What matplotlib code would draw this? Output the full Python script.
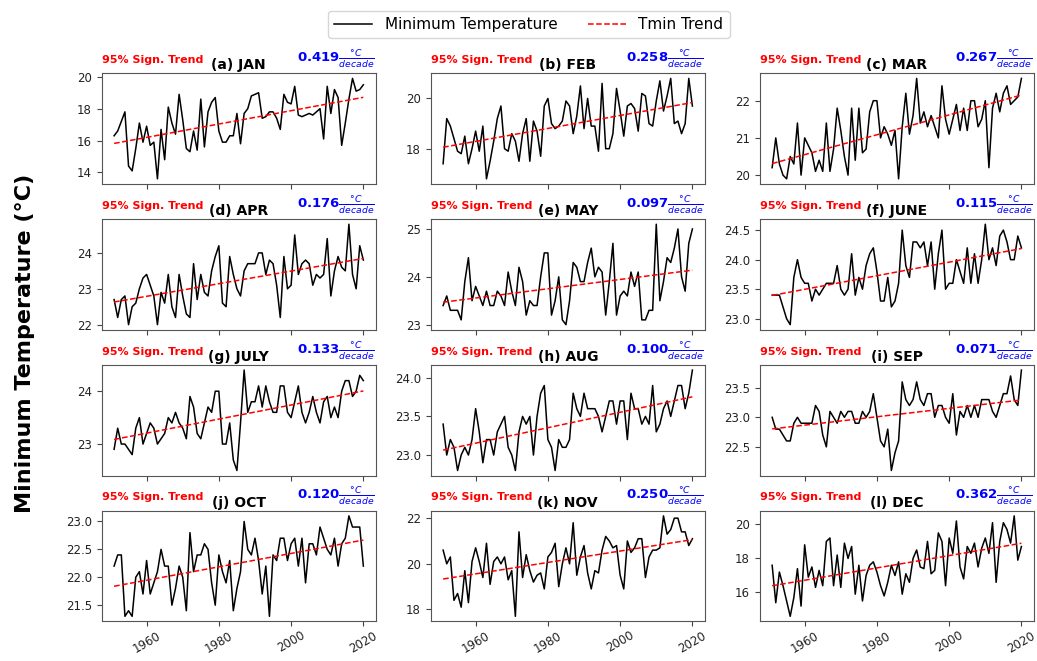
import numpy as np
import matplotlib.pyplot as plt
from matplotlib.ticker import MaxNLocator

years = np.arange(1951, 2021)

months = ['(a) JAN', '(b) FEB', '(c) MAR', '(d) APR', '(e) MAY', '(f) JUNE',
          '(g) JULY', '(h) AUG', '(i) SEP', '(j) OCT', '(k) NOV', '(l) DEC']

# pendiente de la tendencia (degC por decada)
trend_dec = [0.419, 0.258, 0.267, 0.176, 0.097, 0.115,
             0.133, 0.100, 0.071, 0.120, 0.250, 0.362]

tmin_jan = [16.3, 16.6, 17.2, 17.8, 14.4, 14.1, 15.5, 17.1, 15.9, 16.9,
            15.7, 15.9, 13.6, 16.7, 14.8, 18.1, 17.1, 16.4, 18.9, 17.3,
            15.5, 15.3, 16.6, 15.4, 18.6, 15.6, 17.8, 18.4, 18.7, 16.6,
            15.9, 15.9, 16.3, 16.3, 17.7, 15.8, 17.7, 18.0, 18.8, 18.9,
            19.0, 17.4, 17.5, 17.8, 17.8, 17.4, 16.7, 18.9, 18.4, 18.3,
            19.4, 17.6, 17.5, 17.6, 17.7, 17.6, 17.8, 18.0, 16.1, 19.4,
            17.7, 19.2, 18.7, 15.7, 17.1, 18.6, 19.9, 19.1, 19.2, 19.5]

tmin_feb = [17.4, 19.2, 18.9, 18.4, 17.9, 17.8, 18.5, 17.4, 18.0, 18.7,
            17.9, 18.9, 16.8, 17.5, 18.3, 19.2, 19.7, 18.0, 17.9, 18.6,
            18.3, 17.5, 18.6, 19.2, 17.5, 19.1, 18.7, 17.7, 19.7, 20.0,
            19.0, 18.8, 18.9, 19.1, 19.9, 19.7, 18.6, 19.3, 20.5, 18.8,
            20.0, 18.9, 18.9, 17.9, 20.6, 18.0, 18.0, 18.6, 20.4, 19.5,
            18.5, 19.7, 19.8, 19.6, 18.7, 20.2, 20.1, 19.0, 18.9, 19.9,
            20.7, 19.5, 20.1, 20.8, 19.0, 19.1, 18.6, 19.0, 20.8, 19.7]

tmin_mar = [20.2, 21.0, 20.3, 20.0, 19.9, 20.5, 20.3, 21.4, 20.0, 21.0,
            20.8, 20.6, 20.1, 20.4, 20.1, 21.4, 20.1, 20.7, 21.8, 21.2,
            20.5, 20.0, 21.8, 20.4, 21.8, 20.6, 20.7, 21.7, 22.0, 22.0,
            21.0, 21.3, 21.1, 20.8, 21.2, 19.9, 21.3, 22.2, 21.1, 21.6,
            22.6, 21.4, 21.7, 21.3, 21.6, 21.3, 21.0, 22.4, 21.5, 21.1,
            21.5, 21.9, 21.2, 21.8, 21.2, 22.0, 22.0, 21.3, 21.5, 22.0,
            20.2, 21.8, 22.2, 21.7, 22.2, 22.4, 21.9, 22.0, 22.1, 22.6]

tmin_apr = [22.7, 22.2, 22.7, 22.8, 22.0, 22.5, 22.6, 23.0, 23.3, 23.4,
            23.1, 22.8, 22.0, 22.9, 22.6, 23.4, 22.5, 22.2, 23.4, 22.8,
            22.3, 22.2, 23.7, 22.7, 23.4, 22.9, 22.8, 23.5, 23.9, 24.2,
            22.6, 22.5, 23.9, 23.4, 23.0, 22.8, 23.5, 23.7, 23.7, 23.7,
            24.0, 24.0, 23.4, 23.8, 23.7, 23.1, 22.2, 23.9, 23.0, 23.1,
            24.5, 23.4, 23.7, 23.8, 23.7, 23.1, 23.4, 23.3, 23.4, 24.4,
            22.8, 23.5, 23.9, 23.6, 23.5, 24.8, 23.4, 23.0, 24.2, 23.8]

tmin_may = [23.4, 23.6, 23.3, 23.3, 23.3, 23.1, 23.9, 24.4, 23.5, 23.8,
            23.6, 23.4, 23.7, 23.4, 23.4, 23.7, 23.6, 23.4, 24.1, 23.7,
            23.4, 24.2, 23.9, 23.2, 23.5, 23.4, 23.4, 24.0, 24.5, 24.5,
            23.2, 23.5, 24.0, 23.1, 23.0, 23.5, 24.3, 24.2, 23.9, 23.9,
            24.3, 24.6, 24.0, 24.2, 24.1, 23.2, 23.9, 24.7, 23.2, 23.6,
            23.7, 23.6, 24.1, 23.8, 24.1, 23.1, 23.1, 23.3, 23.3, 25.1,
            23.5, 23.9, 24.4, 24.3, 24.6, 25.0, 24.0, 23.7, 24.7, 25.0]

tmin_jun = [23.4, 23.4, 23.4, 23.2, 23.0, 22.9, 23.7, 24.0, 23.7, 23.6,
            23.6, 23.3, 23.5, 23.4, 23.5, 23.6, 23.6, 23.6, 23.9, 23.5,
            23.4, 23.5, 24.1, 23.4, 23.7, 23.5, 23.9, 24.1, 24.2, 23.8,
            23.3, 23.3, 23.7, 23.2, 23.3, 23.6, 24.5, 23.9, 23.7, 24.3,
            24.3, 24.2, 24.3, 23.9, 24.3, 23.5, 24.1, 24.5, 23.5, 23.6,
            23.6, 24.0, 23.8, 23.6, 24.2, 23.6, 24.1, 23.6, 24.0, 24.6,
            24.0, 24.2, 23.9, 24.4, 24.5, 24.3, 24.0, 24.0, 24.4, 24.2]

tmin_jul = [22.9, 23.3, 23.0, 23.0, 22.9, 22.8, 23.3, 23.5, 23.0, 23.2,
            23.4, 23.3, 23.0, 23.1, 23.2, 23.5, 23.4, 23.6, 23.4, 23.3,
            23.1, 23.9, 23.7, 23.2, 23.1, 23.4, 23.7, 23.6, 24.0, 24.0,
            23.0, 23.0, 23.4, 22.7, 22.5, 23.4, 24.4, 23.6, 23.8, 23.8,
            24.1, 23.7, 24.1, 23.8, 23.6, 23.6, 24.1, 24.1, 23.6, 23.5,
            23.8, 24.1, 23.6, 23.4, 23.6, 23.9, 23.6, 23.4, 23.8, 23.9,
            23.5, 23.7, 23.5, 24.0, 24.2, 24.2, 23.9, 24.0, 24.3, 24.2]

tmin_aug = [23.4, 23.0, 23.2, 23.1, 22.8, 23.0, 23.1, 23.0, 23.2, 23.6,
            23.3, 22.9, 23.2, 23.2, 23.0, 23.3, 23.4, 23.5, 23.1, 23.0,
            22.8, 23.3, 23.5, 23.4, 23.5, 23.0, 23.5, 23.8, 23.9, 23.2,
            23.1, 22.8, 23.2, 23.1, 23.1, 23.2, 23.8, 23.6, 23.5, 23.8,
            23.6, 23.6, 23.6, 23.5, 23.3, 23.5, 23.7, 23.7, 23.4, 23.7,
            23.7, 23.2, 23.8, 23.6, 23.6, 23.4, 23.5, 23.4, 23.9, 23.3,
            23.4, 23.6, 23.7, 23.5, 23.7, 23.9, 23.9, 23.6, 23.8, 24.1]

tmin_sep = [23.0, 22.8, 22.8, 22.7, 22.6, 22.6, 22.9, 23.0, 22.9, 22.9,
            22.9, 22.9, 23.2, 23.1, 22.7, 22.5, 23.1, 23.0, 22.9, 23.1,
            23.0, 23.1, 23.1, 22.9, 22.9, 23.1, 23.0, 23.1, 23.4, 23.0,
            22.6, 22.5, 22.8, 22.1, 22.4, 22.6, 23.6, 23.3, 23.2, 23.3,
            23.6, 23.3, 23.2, 23.4, 23.4, 23.0, 23.2, 23.2, 23.0, 22.9,
            23.4, 22.7, 23.1, 23.0, 23.2, 23.0, 23.2, 23.0, 23.3, 23.3,
            23.3, 23.1, 23.0, 23.2, 23.4, 23.4, 23.7, 23.3, 23.2, 23.8]

tmin_oct = [22.2, 22.4, 22.4, 21.3, 21.4, 21.3, 22.0, 22.1, 21.7, 22.3,
            21.7, 21.9, 22.1, 22.5, 22.2, 22.2, 21.5, 21.8, 22.2, 22.0,
            21.4, 22.8, 22.1, 22.4, 22.4, 22.6, 22.5, 21.9, 21.5, 22.4,
            22.1, 21.9, 22.3, 21.4, 21.8, 22.1, 23.0, 22.5, 22.4, 22.7,
            22.3, 21.7, 22.2, 21.3, 22.4, 22.3, 22.7, 22.7, 22.3, 22.6,
            22.7, 22.2, 22.7, 21.9, 22.6, 22.6, 22.4, 22.9, 22.7, 22.5,
            22.4, 22.7, 22.2, 22.6, 22.7, 23.1, 22.9, 22.9, 22.9, 22.2]

tmin_nov = [20.6, 20.0, 20.3, 18.4, 18.7, 18.1, 19.7, 18.3, 20.1, 20.7,
            20.1, 19.4, 20.9, 19.1, 20.1, 20.3, 20.0, 20.3, 19.3, 19.7,
            17.7, 21.4, 19.4, 20.4, 19.7, 19.2, 19.5, 19.6, 18.9, 20.3,
            20.5, 20.9, 19.0, 20.0, 20.7, 20.0, 21.8, 19.5, 20.3, 20.8,
            19.6, 18.9, 19.7, 19.6, 20.6, 21.2, 21.0, 20.7, 20.8, 19.5,
            18.9, 21.0, 20.5, 20.7, 21.1, 21.1, 19.4, 20.3, 20.6, 20.6,
            20.7, 22.1, 21.3, 21.5, 22.0, 22.0, 21.4, 21.4, 20.8, 21.1]

tmin_dec = [17.6, 15.4, 17.2, 16.4, 15.5, 14.6, 15.7, 17.4, 15.2, 18.8,
            16.9, 17.5, 16.3, 17.3, 16.4, 19.0, 19.2, 16.4, 18.2, 16.3,
            18.9, 18.0, 18.7, 15.9, 17.6, 15.5, 17.0, 17.6, 17.8, 17.2,
            16.4, 15.8, 16.6, 17.6, 17.0, 17.8, 15.9, 17.1, 16.6, 18.0,
            18.5, 17.5, 17.4, 19.0, 17.1, 17.3, 19.5, 19.0, 16.4, 19.2,
            18.3, 20.2, 17.5, 16.8, 18.7, 18.3, 18.9, 17.5, 18.6, 19.2,
            18.3, 20.1, 16.6, 19.0, 20.1, 19.7, 18.9, 20.5, 17.9, 18.7]

series = [tmin_jan, tmin_feb, tmin_mar, tmin_apr, tmin_may, tmin_jun,
          tmin_jul, tmin_aug, tmin_sep, tmin_oct, tmin_nov, tmin_dec]

fig, axs = plt.subplots(4, 3, figsize=(10.37, 6.61), dpi=100, sharex=True)
fig.subplots_adjust(left=0.098, right=0.997, top=0.889, bottom=0.06,
                    wspace=0.2, hspace=0.32)

for k, ax in enumerate(axs.flat):
    tmin = np.array(series[k])
    # recta de tendencia con la pendiente calculada (por decada)
    b = trend_dec[k] / 10.0
    trend = tmin.mean() + b * (years - years.mean())

    ax.plot(years, tmin, color='black', lw=1.1, label='Minimum Temperature')
    ax.plot(years, trend, color='red', ls='--', lw=1.1, label='Tmin Trend')

    ax.set_xticks([1960, 1980, 2000, 2020])
    ax.yaxis.set_major_locator(MaxNLocator(nbins=4, steps=[1, 2, 5, 10]))
    ax.tick_params(labelsize=8.5, color='#444444', labelcolor='#222222')
    for s in ax.spines.values():
        s.set_color('#555555')
    ax.set_title(months[k], fontsize=10, fontweight='bold', pad=3)
    ax.text(0.0, 1.095, '95% Sign. Trend', transform=ax.transAxes, color='red',
            fontsize=8, fontweight='bold', ha='left', va='baseline')
    ax.text(0.995, 1.105, '{:.3f}'.format(trend_dec[k]) + r'$\frac{°C}{decade}$',
            transform=ax.transAxes, color='blue', fontsize=9.5,
            fontweight='bold', ha='right', va='baseline')

for ax in axs[-1]:
    plt.setp(ax.get_xticklabels(), rotation=30)
    ax.tick_params(axis='x', pad=2)

h, l = axs[0, 0].get_legend_handles_labels()
fig.legend(h, l, loc='upper center', ncol=2, fontsize=11,
           bbox_to_anchor=(0.51, 0.995), handlelength=2.5)
fig.text(0.024, 0.48, 'Minimum Temperature (°C)', rotation=90, fontsize=16,
         fontweight='bold', ha='center', va='center')

plt.savefig('out.png', dpi=100)
